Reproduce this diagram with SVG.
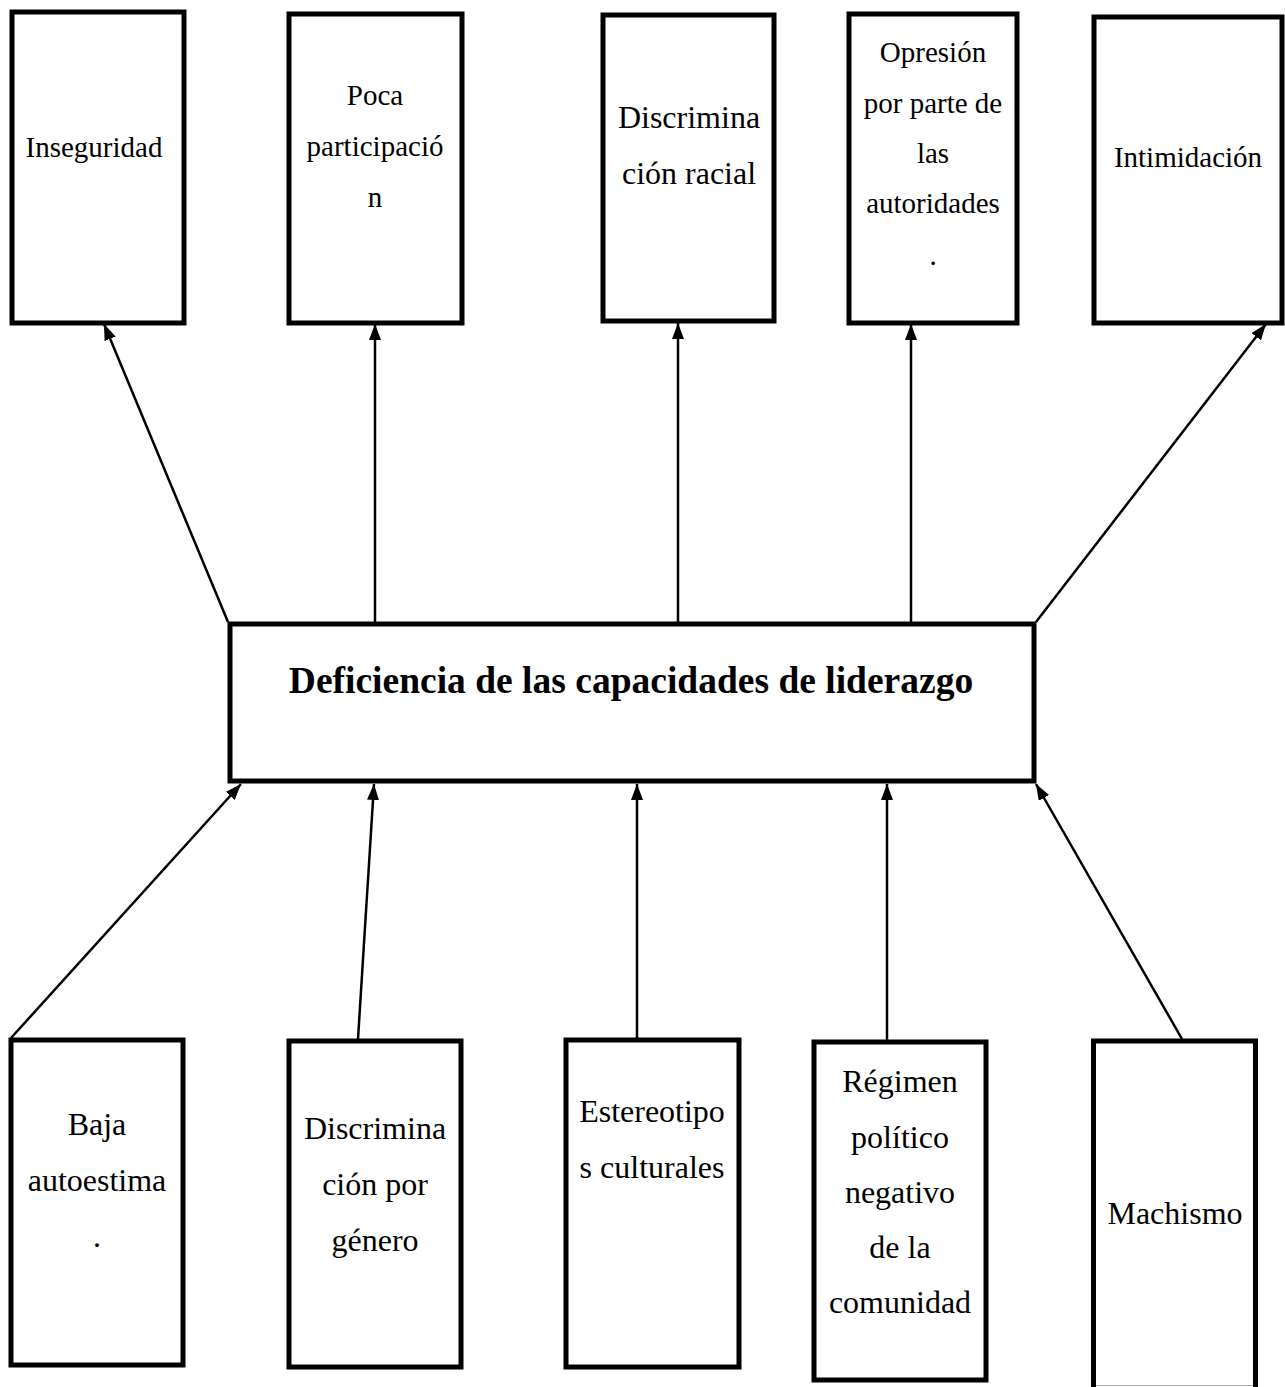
<svg xmlns="http://www.w3.org/2000/svg" width="1285" height="1387" viewBox="0 0 1285 1387">
<style>
.box{fill:#fff;stroke:#000;stroke-width:5}
.t{font-family:"Liberation Serif","Times New Roman",serif;fill:#000;text-anchor:middle}
.s29{font-size:29px}
.s32{font-size:32px}
.title{font-size:37.5px;font-weight:bold}
.c{stroke:#000;stroke-width:2.5;fill:none;marker-end:url(#ah)}
</style>
<defs>
<marker id="ah" markerUnits="userSpaceOnUse" markerWidth="18" markerHeight="14" refX="16" refY="6" orient="auto">
<path d="M0,0 L16,6 L0,12 z" fill="#000"/>
</marker>
</defs>
<rect x="0" y="0" width="1285" height="1387" fill="#fff"/>
<g id="connectors">
<line class="c" x1="228" y1="622" x2="104" y2="324"/>
<line class="c" x1="375" y1="622" x2="375" y2="324"/>
<line class="c" x1="678" y1="622" x2="678" y2="323"/>
<line class="c" x1="911" y1="622" x2="911" y2="324"/>
<line class="c" x1="1036" y1="622" x2="1266" y2="324"/>
<line class="c" x1="11" y1="1038" x2="241" y2="784"/>
<line class="c" x1="358" y1="1039" x2="374" y2="784"/>
<line class="c" x1="637" y1="1039" x2="637" y2="784"/>
<line class="c" x1="887" y1="1040" x2="887" y2="784"/>
<line class="c" x1="1182" y1="1039" x2="1036" y2="784"/>
</g>
<g id="top1">
<rect class="box" x="12" y="12" width="172" height="311"/>
<text class="t s29" x="94" y="157">Inseguridad</text>
</g>
<g id="top2">
<rect class="box" x="289" y="14" width="173" height="309"/>
<text class="t s29" x="375" y="105">Poca</text>
<text class="t s29" x="375" y="156">participació</text>
<text class="t s29" x="375" y="207">n</text>
</g>
<g id="top3">
<rect class="box" x="603" y="15" width="171" height="306"/>
<text class="t s32" x="689" y="128">Discrimina</text>
<text class="t s32" x="689" y="184">ción racial</text>
</g>
<g id="top4">
<rect class="box" x="849" y="14" width="168" height="309"/>
<text class="t s29" x="933" y="62">Opresión</text>
<text class="t s29" x="933" y="113">por parte de</text>
<text class="t s29" x="933" y="163">las</text>
<text class="t s29" x="933" y="213">autoridades</text>
<text class="t s29" x="933" y="265">.</text>
</g>
<g id="top5">
<rect class="box" x="1094" y="17" width="188" height="306"/>
<text class="t s29" x="1188" y="167">Intimidación</text>
</g>
<g id="center">
<rect class="box" x="230" y="624" width="804" height="157"/>
<text class="t title" x="631" y="693">Deficiencia de las capacidades de liderazgo</text>
</g>
<g id="bottom1">
<rect class="box" x="11" y="1040" width="172" height="325"/>
<text class="t s32" x="97" y="1135">Baja</text>
<text class="t s32" x="97" y="1191">autoestima</text>
<text class="t s32" x="97" y="1247">.</text>
</g>
<g id="bottom2">
<rect class="box" x="289" y="1041" width="172" height="326"/>
<text class="t s32" x="375" y="1139">Discrimina</text>
<text class="t s32" x="375" y="1195">ción por</text>
<text class="t s32" x="375" y="1251">género</text>
</g>
<g id="bottom3">
<rect class="box" x="566" y="1040" width="173" height="327"/>
<text class="t s32" x="652" y="1122">Estereotipo</text>
<text class="t s32" x="652" y="1178">s culturales</text>
</g>
<g id="bottom4">
<rect class="box" x="814" y="1042" width="172" height="338"/>
<text class="t s32" x="900" y="1092">Régimen</text>
<text class="t s32" x="900" y="1148">político</text>
<text class="t s32" x="900" y="1203">negativo</text>
<text class="t s32" x="900" y="1258">de la</text>
<text class="t s32" x="900" y="1313">comunidad</text>
</g>
<g id="bottom5">
<rect class="box" x="1093.5" y="1041" width="162" height="360"/>
<line x1="1096" y1="1385.5" x2="1253" y2="1385.5" stroke="#aaa" stroke-width="1"/>
<text class="t s32" x="1175" y="1224">Machismo</text>
</g>
</svg>
